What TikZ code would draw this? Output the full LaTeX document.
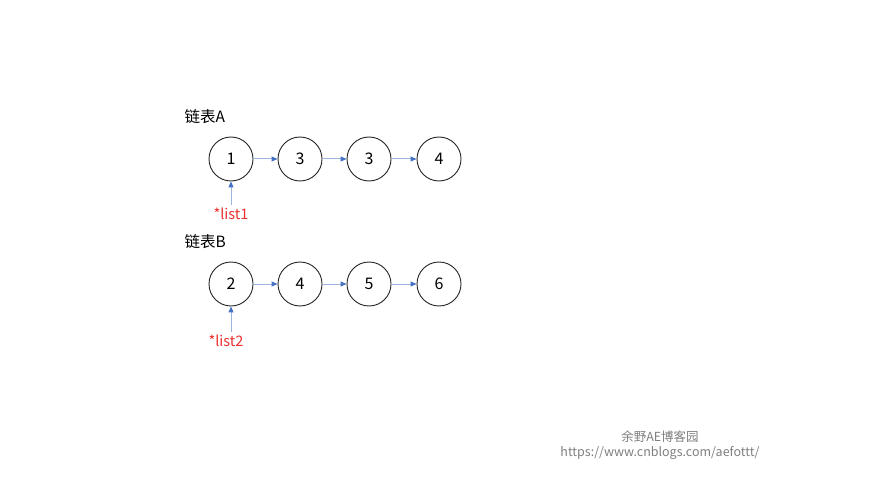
\documentclass[tikz,border=0pt]{standalone}
\usepackage{fontspec}
\setmainfont{Noto Sans CJK SC}
\usetikzlibrary{arrows.meta}
\definecolor{lineblue}{HTML}{9DB4DE}
\definecolor{headblue}{HTML}{4472C4}
\definecolor{redtxt}{HTML}{EE3030}
\definecolor{wmgray}{HTML}{7F7F7F}
\begin{document}
\begin{tikzpicture}[x=1pt,y=-1pt,
  elem/.style={draw=black!85,line width=0.9pt,circle,minimum size=44pt,inner sep=0pt,font=\fontsize{16}{19}\selectfont},
  link/.style={draw=lineblue,line width=1pt,-{Triangle[length=6pt,width=5pt,fill=headblue,color=headblue]}},
  title/.style={anchor=west,font=\fontsize{15.5}{18}\selectfont},
  ptr/.style={text=redtxt,font=\fontsize{14.5}{17}\selectfont},
  wm/.style={text=wmgray,font=\fontsize{12.5}{15}\selectfont}]
\useasboundingbox[fill=white] (0,0) rectangle (889,500);
\node[title] (ta) at (181,117) {链表A};
\node[elem] (a1) at (231,159) {1};
\node[elem] (a2) at (300,159) {3};
\node[elem] (a3) at (369,159) {3};
\node[elem] (a4) at (439,159) {4};
\draw[link] (a1) -- (a2);
\draw[link] (a2) -- (a3);
\draw[link] (a3) -- (a4);
\node[ptr] (p1) at (231,214) {*list1};
\draw[link] (p1.north) -- (a1.south);

\node[title] (tb) at (181,242) {链表B};
\node[elem] (b1) at (231,284) {2};
\node[elem] (b2) at (300,284) {4};
\node[elem] (b3) at (369,284) {5};
\node[elem] (b4) at (439,284) {6};
\draw[link] (b1) -- (b2);
\draw[link] (b2) -- (b3);
\draw[link] (b3) -- (b4);
\node[ptr] (p2) at (226,341) {*list2};
\coordinate (p2top) at (231,332);
\draw[link] (p2top) -- (b1.south);

\node[wm] (w1) at (660,437) {余野AE博客园};
\node[wm] (w2) at (660,453) {https://www.cnblogs.com/aefottt/};
\end{tikzpicture}
\end{document}
